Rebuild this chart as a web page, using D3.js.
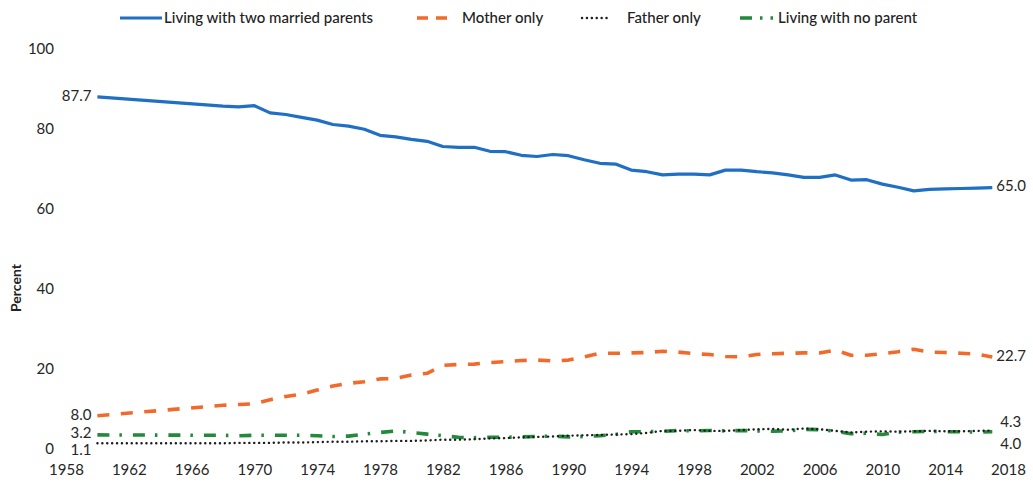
<!DOCTYPE html>
<html>
<head>
<meta charset="utf-8">
<script src="https://cdn.jsdelivr.net/npm/d3@7"></script>
<style>
  html, body { margin: 0; padding: 0; background: #fff; }
  svg { display: block; font-family: Lato, "Open Sans", sans-serif; }
</style>
</head>
<body>
<svg id="chart" width="1033" height="482"></svg>
<script>
// Share of children by living arrangement, 1960 and 1968–2017 (percent)
const years = [1960, 1968, 1969, 1970, 1971, 1972, 1973, 1974, 1975, 1976, 1977, 1978, 1979,
  1980, 1981, 1982, 1983, 1984, 1985, 1986, 1987, 1988, 1989, 1990, 1991, 1992, 1993, 1994,
  1995, 1996, 1997, 1998, 1999, 2000, 2001, 2002, 2003, 2004, 2005, 2006, 2007, 2008, 2009,
  2010, 2011, 2012, 2013, 2014, 2015, 2016, 2017];

const twoMarriedParents = [87.7, 85.4, 85.2, 85.5, 83.7, 83.3, 82.6, 81.9, 80.8, 80.4, 79.6, 78.1, 77.7,
  77.1, 76.6, 75.3, 75.1, 75.1, 74.1, 74.0, 73.1, 72.8, 73.3, 73.0, 72.0, 71.1, 70.9, 69.4,
  69.0, 68.2, 68.4, 68.4, 68.2, 69.4, 69.4, 69.0, 68.7, 68.2, 67.6, 67.6, 68.2, 66.9, 67.0,
  65.9, 65.1, 64.2, 64.6, 64.7, 64.8, 64.9, 65.0];

const motherOnly = [8.0, 10.6, 10.8, 11.0, 12.0, 12.8, 13.4, 14.4, 15.4, 16.1, 16.5, 17.2, 17.3,
  18.2, 18.6, 20.6, 20.8, 20.9, 21.3, 21.5, 21.8, 21.9, 21.7, 21.9, 22.7, 23.6, 23.6, 23.7,
  23.8, 24.1, 23.9, 23.5, 23.3, 22.8, 22.7, 23.3, 23.5, 23.6, 23.7, 23.7, 24.4, 23.1, 23.1,
  23.5, 24.0, 24.6, 23.9, 23.8, 23.6, 23.4, 22.7];

const fatherOnly = [1.1, 1.1, 1.2, 1.2, 1.2, 1.3, 1.3, 1.4, 1.5, 1.5, 1.6, 1.6, 1.7,
  1.7, 1.8, 2.0, 2.0, 2.1, 2.3, 2.4, 2.6, 2.7, 2.8, 3.0, 3.1, 3.2, 3.3, 3.4,
  3.7, 4.2, 4.2, 4.4, 4.2, 4.2, 4.4, 4.6, 4.7, 4.5, 4.8, 4.6, 4.2, 3.8, 4.0,
  4.1, 4.0, 4.1, 4.2, 4.1, 4.1, 4.2, 4.3];

const noParent = [3.2, 3.1, 3.0, 3.1, 3.1, 3.1, 3.1, 3.0, 2.8, 2.9, 3.4, 3.8, 4.2,
  3.8, 3.4, 3.0, 2.6, 2.5, 2.6, 2.6, 2.7, 2.8, 2.9, 2.7, 2.8, 3.0, 3.3, 4.0,
  4.0, 4.1, 4.3, 4.2, 4.3, 4.2, 4.3, 4.2, 4.1, 4.2, 4.6, 4.5, 4.1, 3.5, 3.6,
  3.3, 3.9, 4.0, 4.1, 4.0, 4.0, 3.9, 4.0];

const seriesNames = ["Living with two married parents", "Mother only", "Father only", "Living with no parent"];
const xTickYears = d3.range(1958, 2019, 4);
const yTickValues = [0, 20, 40, 60, 80, 100];

const series = [
  { name: seriesNames[0], values: twoMarriedParents, color: "#1f6fc4", width: 3.2, dash: null, cap: "butt" },
  { name: seriesNames[1], values: motherOnly, color: "#f26a2b", width: 3.6, dash: "12,11.5", cap: "butt" },
  { name: seriesNames[2], values: fatherOnly, color: "#1e1e1e", width: 2.4, dash: "0.1,4.8", cap: "round" },
  { name: seriesNames[3], values: noParent, color: "#23893b", width: 3.6, dash: "12,10,2.5,11", cap: "butt" }
];

const svg = d3.select("#chart");

const x = d3.scaleLinear().domain([1958, 2018]).range([66, 1008]);
const y = d3.scaleLinear().domain([0, 100]).range([447.7, 47.7]);

const textColor = "#262626";

// Y axis labels (no axis line or ticks)
const yAxis = svg.append("g").attr("transform", "translate(54,0)")
  .call(d3.axisLeft(y).tickValues(yTickValues).tickSize(0).tickPadding(0));
yAxis.select(".domain").remove();
yAxis.selectAll("text")
  .attr("dy", "0.55em").attr("y", -2)
  .style("font-family", "Lato, sans-serif").style("font-size", "15px").style("fill", textColor);

// X axis labels
const xAxis = svg.append("g").attr("transform", "translate(0,464)")
  .call(d3.axisBottom(x).tickValues(xTickYears).tickFormat(d3.format("d")).tickSize(0).tickPadding(0));
xAxis.select(".domain").remove();
xAxis.selectAll("text")
  .style("font-family", "Lato, sans-serif").style("font-size", "15px").style("fill", textColor);

// Axis title
svg.append("text")
  .attr("transform", "translate(21,288) rotate(-90)")
  .attr("text-anchor", "middle")
  .style("font-size", "14px").style("font-weight", "bold").style("fill", "#222")
  .text("Percent");

// Series lines
const line = d3.line()
  .x((d, i) => x(years[i]))
  .y(d => y(d));

svg.append("g").selectAll("path")
  .data(series.slice().reverse())
  .join("path")
  .attr("d", d => line(d.values))
  .attr("fill", "none")
  .attr("stroke", d => d.color)
  .attr("stroke-width", d => d.width)
  .attr("stroke-dasharray", d => d.dash)
  .attr("stroke-linecap", d => d.cap)
  .attr("stroke-linejoin", "round");

// Start and end value labels
const fmt = d3.format(".1f");
const labelStyle = sel => sel.style("font-size", "15px").style("fill", textColor);
const firstIdx = 0, lastIdx = years.length - 1;
const startOffsets = [-1, -1, 6.5, -2];
const endOffsets = [-2, -1, -8.5, 12.5];
series.forEach((s, k) => {
  svg.append("text")
    .attr("x", x(years[firstIdx]) - 6)
    .attr("y", y(s.values[firstIdx]) + startOffsets[k])
    .attr("dy", "0.35em")
    .attr("text-anchor", "end")
    .call(labelStyle)
    .text(fmt(s.values[firstIdx]));
  svg.append("text")
    .attr("x", x(years[lastIdx]) + (k >= 2 ? 8 : 4))
    .attr("y", y(s.values[lastIdx]) + endOffsets[k])
    .attr("dy", "0.35em")
    .attr("text-anchor", "start")
    .call(labelStyle)
    .text(fmt(s.values[lastIdx]));
});

// Legend
const legendItems = [
  { sx: 120, ex: 162, tx: 164 },
  { sx: 417, ex: 448, tx: 462 },
  { sx: 582, ex: 611, tx: 627 },
  { sx: 740, ex: 778, tx: 778 }
];
const legendDash = [null, "11,8", "0.1,4.8", "12,8,2.5,8,2.5,8"];
const legend = svg.append("g");
series.forEach((s, k) => {
  const it = legendItems[k];
  legend.append("line")
    .attr("x1", it.sx).attr("x2", it.ex).attr("y1", 18).attr("y2", 18)
    .attr("stroke", s.color).attr("stroke-width", s.width)
    .attr("stroke-dasharray", legendDash[k])
    .attr("stroke-linecap", s.cap);
  legend.append("text")
    .attr("x", it.tx).attr("y", 18).attr("dy", "0.35em")
    .style("font-size", "15px").style("font-weight", "500").style("fill", "#222")
    .text(s.name);
});
</script>
</body>
</html>
